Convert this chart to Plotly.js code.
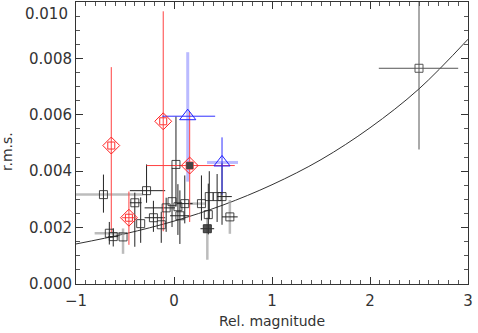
<!DOCTYPE html>
<html>
<head>
<meta charset="utf-8">
<script src="https://cdn.plot.ly/plotly-3.0.1.min.js"></script>
<style>
html,body{margin:0;padding:0;background:#fff;}
#chart{width:478px;height:333px;}
</style>
</head>
<body>
<div id="chart"></div>
<script>
// ---- data ----
// model curve (read at 0.5 steps)
const curveX = [-1.0, -0.5, 0.0, 0.5, 1.0, 1.5, 2.0, 2.5, 3.0];
const curveY = [0.00142, 0.00178, 0.00223, 0.00280, 0.00352, 0.00441, 0.00554, 0.00692, 0.00868];

// open squares
const sqX = [-0.72, -0.66, -0.62, -0.52, -0.40, -0.34, -0.28, -0.21, -0.13, -0.08, -0.02, 0.04, 0.11, 0.06, 0.28, 0.36, 0.44, 0.49, 0.35, 0.57, 0.02];
const sqY = [0.00317, 0.00180, 0.00168, 0.00167, 0.00288, 0.00214, 0.00331, 0.00235, 0.00210, 0.00270, 0.00292, 0.00274, 0.00285, 0.00242, 0.00285, 0.00310, 0.00310, 0.00310, 0.00246, 0.00238, 0.00424];
// thin black error bars
const sqXLoB = [0, 0, 0.05, 0, 0.05, 0, 0.17, 0.09, 0, 0.22, 0, 0, 0.08, 0.10, 0, 0, 0, 0.05, 0, 0.08, 0];
const sqXHiB = [0, 0, 0.05, 0, 0.07, 0, 0.19, 0.12, 0, 0.09, 0, 0, 0.08, 0.10, 0, 0, 0, 0.10, 0, 0.08, 0];
const sqYLoB = [0.00064, 0.0004, 0.00035, 0, 0.00156, 0.00068, 0.00043, 0.0005, 0.00064, 0.00085, 0.0009, 0.0010, 0.0007, 0.0010, 0.0006, 0.0008, 0.0009, 0.0010, 0.0007, 0, 0.0015];
const sqYHiB = [0.00071, 0.0004, 0.0003, 0, 0.00036, 0.00093, 0.00093, 0.0006, 0.00046, 0.00036, 0.0012, 0.0008, 0.0010, 0.0009, 0.0010, 0.0009, 0.0008, 0.0012, 0.0011, 0, 0.0017];
// thick grey error bars
const sqXLoG = [0.30, 0.15, 0, 0, 0, 0, 0, 0, 0, 0, 0, 0, 0, 0, 0.12, 0, 0, 0, 0, 0, 0];
const sqXHiG = [0.40, 0.14, 0, 0, 0, 0, 0, 0, 0, 0, 0, 0, 0, 0, 0.04, 0, 0, 0, 0, 0, 0];
const sqYLoG = [0, 0, 0, 0.0006, 0, 0, 0, 0, 0, 0, 0, 0, 0, 0, 0, 0, 0, 0, 0, 0.0006, 0];
const sqYHiG = [0, 0, 0, 0.0003, 0, 0, 0, 0, 0, 0, 0, 0, 0, 0, 0, 0, 0, 0, 0, 0.0006, 0];

// filled square
const fsX = [0.34];
const fsY = [0.00196];
const fsXErr = [0.07];
const fsYLo = [0.0011];
const fsYHi = [0.0004];

// isolated bright point
const bigX = [2.50];
const bigY = [0.00765];
const bigXLo = [0.41];
const bigXHi = [0.40];
const bigYLo = [0.00288];
const bigYHi = [0.0028];

// red diamonds
const rdX = [-0.64, -0.11, 0.16, -0.46];
const rdY = [0.00491, 0.00577, 0.00420, 0.00235];
const rdXLo = [0, 0, 0.44, 0.07];
const rdXHi = [0, 0, 0.46, 0.07];
const rdYLo = [0.00309, 0.0039, 0.0020, 0.00096];
const rdYHi = [0.00278, 0.0039, 0.0019, 0.00093];

// blue triangles
const btX = [0.14, 0.49];
const btY = [0.00595, 0.00431];
const btXLoThin = [0.26, 0];
const btXHiThin = [0.28, 0];
const btYLoThin = [0, 0.00114];
const btYHiThin = [0, 0.00089];
const btXLoWide = [0, 0.153];
const btXHiWide = [0, 0.163];
const btYLoWide = [0.00232, 0];
const btYHiWide = [0.00227, 0];

const tickVals = [0, 0.002, 0.004, 0.006, 0.008, 0.010];
const tickText = ['0.000', '0.002', '0.004', '0.006', '0.008', ''];
const topTickLabel = '0.010';

// ---- helpers ----
function errTrace(x, y, xlo, xhi, ylo, yhi, color, thick) {
  return {
    x: x, y: y, type: 'scatter', mode: 'markers',
    marker: {size: 1, opacity: 0},
    hoverinfo: 'skip', showlegend: false,
    error_x: {type: 'data', symmetric: false, array: xhi, arrayminus: xlo, color: color, thickness: thick, width: 0},
    error_y: {type: 'data', symmetric: false, array: yhi, arrayminus: ylo, color: color, thickness: thick, width: 0}
  };
}

const traces = [
  {x: curveX, y: curveY, type: 'scatter', mode: 'lines', line: {color: '#333', width: 1, shape: 'spline'}, showlegend: false, hoverinfo: 'skip'},
  errTrace(sqX, sqY, sqXLoG, sqXHiG, sqYLoG, sqYHiG, 'rgba(160,160,160,0.7)', 2.5),
  errTrace(fsX, fsY, [0], [0], fsYLo, fsYHi, 'rgba(160,160,160,0.7)', 2.5),
  errTrace(sqX, sqY, sqXLoB, sqXHiB, sqYLoB, sqYHiB, '#222', 1),
  errTrace(fsX, fsY, fsXErr, fsXErr, [0], [0], '#222', 1),
  errTrace(bigX, bigY, bigXLo, bigXHi, bigYLo, bigYHi, '#555', 1),
  errTrace(btX, btY, btXLoWide, btXHiWide, btYLoWide, btYHiWide, 'rgba(130,130,255,0.55)', 3),
  errTrace(rdX, rdY, rdXLo, rdXHi, rdYLo, rdYHi, '#ff4040', 1),
  errTrace(btX, btY, btXLoThin, btXHiThin, btYLoThin, btYHiThin, '#3030ff', 1),
  {x: sqX, y: sqY, type: 'scatter', mode: 'markers', showlegend: false,
   marker: {symbol: 'square-open', size: 8, color: 'rgba(40,40,40,0.85)', line: {width: 1}}},
  {x: bigX, y: bigY, type: 'scatter', mode: 'markers', showlegend: false,
   marker: {symbol: 'square-open', size: 8, color: '#555', line: {width: 1}}},
  {x: fsX, y: fsY, type: 'scatter', mode: 'markers', showlegend: false,
   marker: {symbol: 'square', size: 8, color: 'rgba(50,50,50,0.85)', line: {width: 1, color: '#333'}}},
  {x: rdX, y: rdY, type: 'scatter', mode: 'markers', showlegend: false,
   marker: {symbol: 'square-open', size: 7, color: '#ff3030', line: {width: 1}}},
  {x: [rdX[2]], y: [rdY[2]], type: 'scatter', mode: 'markers', showlegend: false,
   marker: {symbol: 'square', size: 7, color: '#444'}},
  {x: rdX, y: rdY, type: 'scatter', mode: 'markers', showlegend: false,
   marker: {symbol: 'diamond-open', size: 13, color: '#ff2020', line: {width: 1}}},
  {x: btX, y: btY, type: 'scatter', mode: 'markers', showlegend: false,
   marker: {symbol: 'triangle-up-open', size: 14, color: '#2020ff', line: {width: 1}}}
];

const font = {family: 'DejaVu Sans, sans-serif', size: 14, color: '#333'};
const tfont = {family: 'DejaVu Sans, sans-serif', size: 15, color: '#333'};

const layout = {
  width: 478, height: 333,
  margin: {l: 76, r: 10, t: 2, b: 49, pad: 0},
  paper_bgcolor: '#fff', plot_bgcolor: '#fff',
  font: font,
  showlegend: false,
  xaxis: {
    range: [-1, 3], dtick: 1, tick0: 0,
    ticks: 'inside', ticklen: 7, tickwidth: 1, tickcolor: '#333',
    showline: true, linecolor: '#333', linewidth: 1, mirror: 'ticks',
    showgrid: false, zeroline: false,
    minor: {dtick: 0.1, ticks: 'inside', ticklen: 4, tickcolor: '#555', showgrid: false},
    tickfont: tfont, ticklabelstandoff: 3,
    title: {text: 'Rel. magnitude', font: font, standoff: 7}
  },
  yaxis: {
    range: [0, 0.01], tickmode: 'array', tickvals: tickVals, ticktext: tickText,
    ticks: 'inside', ticklen: 7, tickwidth: 1, tickcolor: '#333',
    showline: true, linecolor: '#333', linewidth: 1, mirror: 'ticks',
    showgrid: false, zeroline: false,
    minor: {dtick: 0.0005, ticks: 'inside', ticklen: 4, tickcolor: '#555', showgrid: false},
    tickfont: tfont
  },
  annotations: [{
    text: 'r.m.s.', xref: 'paper', yref: 'paper',
    x: (7 - 76) / 392, y: 0.468,
    xanchor: 'center', yanchor: 'middle', textangle: -90,
    showarrow: false, font: font
  }, {
    text: topTickLabel, xref: 'paper', yref: 'paper',
    x: (70 - 76) / 392, y: (284 - 14) / 282,
    xanchor: 'right', yanchor: 'middle',
    showarrow: false, font: tfont
  }]
};

Plotly.newPlot('chart', traces, layout, {staticPlot: true, displayModeBar: false});
</script>
</body>
</html>
